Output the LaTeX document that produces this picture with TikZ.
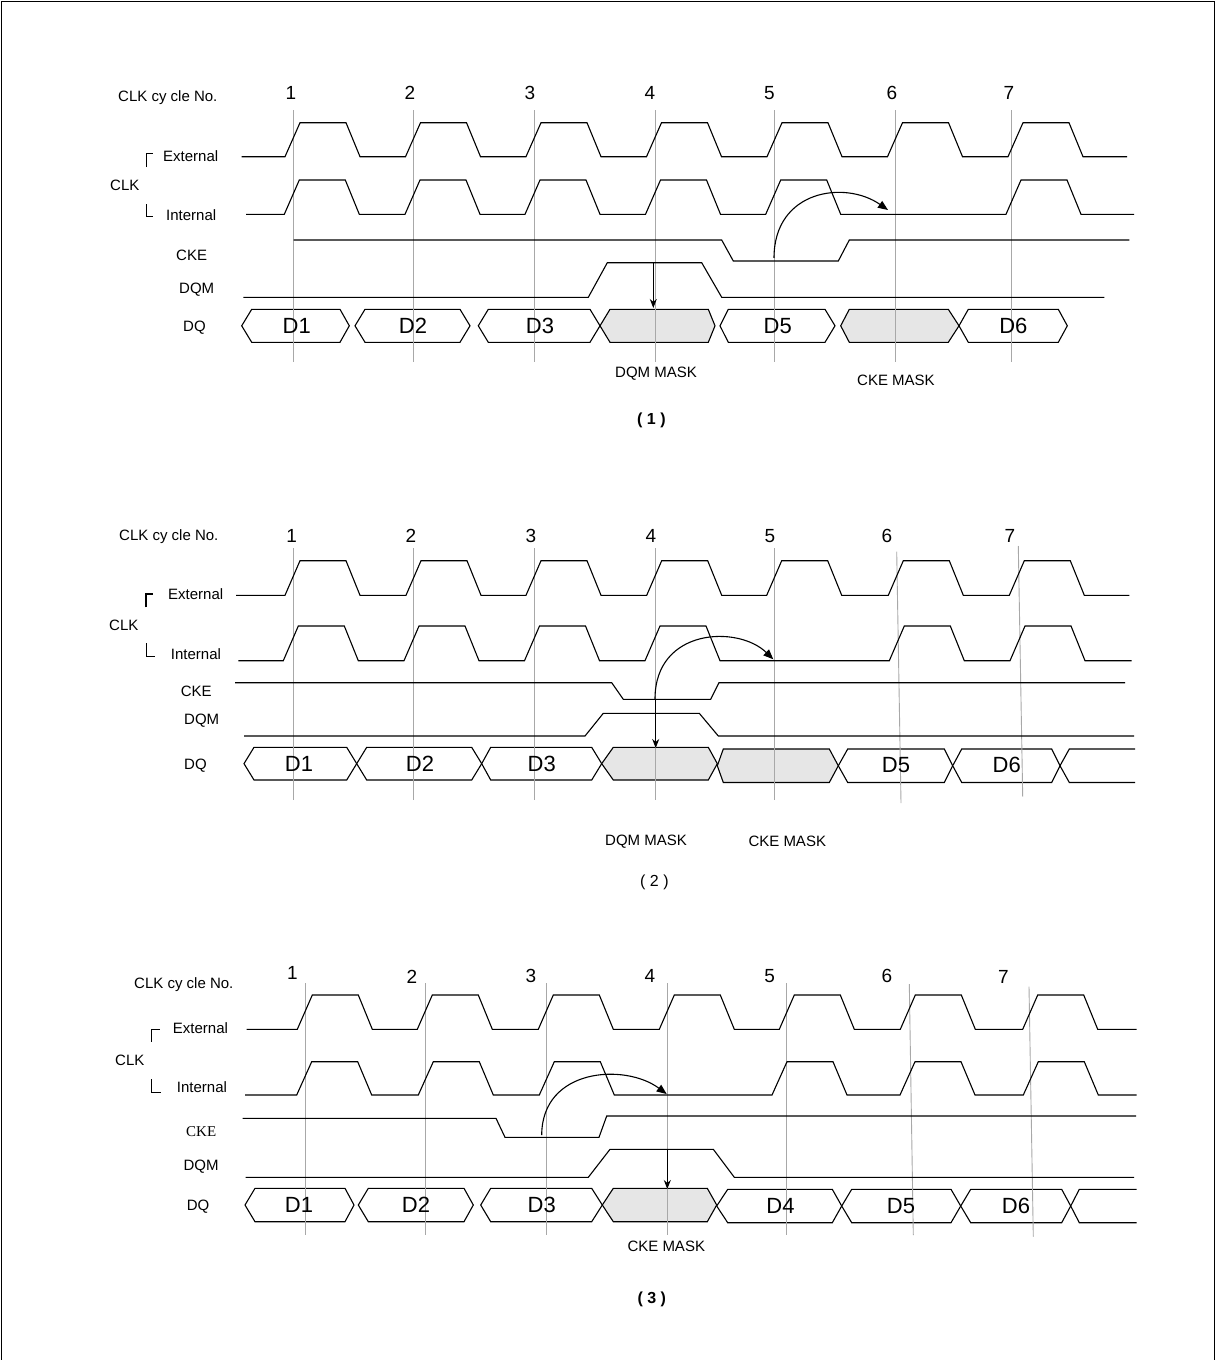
\documentclass[tikz,border=0pt]{standalone}
\usepackage{fontspec}
\setmainfont{Liberation Sans}
\newfontfamily\ckeserif{Liberation Serif}
\usetikzlibrary{arrows.meta}
\definecolor{gridgray}{HTML}{A8A8A8}
\definecolor{maskgray}{HTML}{E6E6E6}
\tikzset{
  sig/.style={line width=1.1pt, line join=miter},
  gridln/.style={line width=0.9pt, draw=gridgray},
  lbl/.style={inner sep=0pt, anchor=base west, font=\fontsize{15}{18}\selectfont},
  masklbl/.style={inner sep=0pt, anchor=base west, font=\fontsize{15}{18}\selectfont},
  num/.style={inner sep=0pt, font=\fontsize{19}{21}\selectfont},
  dlab/.style={inner sep=0pt, font=\fontsize{22}{24}\selectfont},
  hexw/.style={line width=1.1pt, fill=white},
  hexg/.style={line width=1.1pt, fill=maskgray},
  brk/.style={line width=1.1pt},
  carrow/.style={line width=1.1pt, -{Triangle[length=10pt,width=8pt]}},
  varrow/.style={line width=1.1pt, -{Stealth[length=9pt,width=7pt]}},
}
% clock waveform: xstart, xend, yhigh, ylow, list of rise positions
\newcommand{\clkwave}[5]{\draw[sig] (#1,#4) \foreach \rr in {#5} { -- (\rr,#4) -- ({\rr+15},#3) -- ({\rr+61},#3) -- ({\rr+75},#4) } -- (#2,#4);}
% data box: xl, xtl, xtr, xr, ytop, ybot, style
\newcommand{\hexb}[7]{\draw[#7] (#1,{(#5+#6)/2}) -- (#2,#5) -- (#3,#5) -- (#4,{(#5+#6)/2}) -- (#3,#6) -- (#2,#6) -- cycle;}
\begin{document}
\begin{tikzpicture}[x=1pt,y=-1pt]
\useasboundingbox (0,0) rectangle (1216,1360);
% outer frame
\draw[line width=1.2pt] (1.5,1360) -- (1.5,1.5) -- (1214.5,1.5) -- (1214.5,1360);

% ================= PANEL 1 =================
\hexb{241.7}{251.7}{340}{349.3}{309.3}{342.3}{hexw}
\hexb{355}{365}{460}{470}{309.3}{342.3}{hexw}
\hexb{478.3}{488.3}{590}{600}{309.3}{342.3}{hexw}
\hexb{600}{610}{708.3}{715}{309.3}{342.3}{hexg}
\hexb{720}{728.3}{825}{835}{309.3}{342.3}{hexw}
\hexb{840.7}{849.3}{948.3}{959}{309.3}{342.3}{hexg}
\hexb{959}{968.3}{1058.3}{1067.3}{309.3}{342.3}{hexw}
\foreach \x in {293.7,413.3,534,655.7,774.3,895.7,1011.7} \draw[gridln] (\x,110) -- (\x,362);
\clkwave{241.7}{1127}{122.7}{156.7}{285,405.5,526,646.5,767,887.5,1008}
\clkwave{246}{1134}{180}{214.3}{284.3,405,525,645.5,765.7,1006}
\draw[sig] (293.7,240) -- (721.7,240) -- (733.3,261) -- (838.3,261) -- (849.3,240) -- (1129.3,240);
\draw[sig] (243.3,297.3) -- (588.3,297.3) -- (607.3,262.7) -- (701.7,262.7) -- (721.7,297.3) -- (1104.3,297.3);
\draw[carrow] (774,258) .. controls (774,190) and (845,180) .. (888,210);
\draw[varrow] (653.3,262.7) -- (653.3,308);
\draw[brk] (146.7,167) -- (146.7,153.3) -- (153,153.3);
\draw[brk] (146.7,204) -- (146.7,216.7) -- (153.3,216.7);
\foreach \x [count=\i] in {291,410,530,650,769.5,892,1009} \node[num] (pa\i) at (\x,93.3) {\i};
\node[lbl] (pacyc) at (118,101.7) {CLK cy cle No.};
\node[lbl] (paext) at (163,161.7) {External};
\node[lbl] (paclk) at (110,190.7) {CLK};
\node[lbl] (paint) at (166,220.7) {Internal};
\node[lbl] (packe) at (176,260) {CKE};
\node[lbl] (padqm) at (179,293.3) {DQM};
\node[lbl] (padq) at (183,331.7) {DQ};
\node[dlab] (pad1) at (296.7,325.8) {D1};
\node[dlab] (pad2) at (413,325.8) {D2};
\node[dlab] (pad3) at (540,325.8) {D3};
\node[dlab] (pad5) at (777.7,325.8) {D5};
\node[dlab] (pad6) at (1013.3,325.8) {D6};
\node[masklbl] (padqmm) at (615,377) {DQM MASK};
\node[masklbl] (pakem) at (857,385) {CKE MASK};
\node[inner sep=0pt, anchor=base west, font=\fontsize{16}{18}\selectfont\bfseries] (patitle) at (637,424) {( 1 )};

% ================= PANEL 2 =================
\hexb{244}{254}{346.7}{356.7}{747.3}{780}{hexw}
\hexb{356.7}{366.7}{471.7}{481.7}{747.3}{780}{hexw}
\hexb{481.7}{490.7}{591.7}{601.7}{747.3}{780}{hexw}
\hexb{601.7}{613.3}{708.3}{717.3}{747.3}{780}{hexg}
\hexb{717.3}{723.3}{829.3}{838.3}{749}{782.5}{hexg}
\hexb{838.3}{847.7}{944.3}{952.7}{749}{782.5}{hexw}
\hexb{952.7}{961.7}{1051.7}{1060}{749}{782.5}{hexw}
\draw[sig] (1135,749) -- (1069.3,749) -- (1060,765.75) -- (1069.3,782.5) -- (1135,782.5);
\foreach \x in {293.7,413.3,534,655.7,774.3} \draw[gridln] (\x,548) -- (\x,800);
\draw[gridln] (896.7,551.7) -- (901,803);
\draw[gridln] (1018.3,546) -- (1022.7,796.7);
\clkwave{236}{1129.3}{560.7}{595.3}{285,406,526,646.7,766.7,888.3,1009.3}
\clkwave{238.3}{1131.7}{626}{660.7}{283.3,404,524.5,645,889.3,1010}
\draw[sig] (235,682.7) -- (611.7,682.7) -- (623.3,699.3) -- (710.7,699.3) -- (719,682.7) -- (1125,682.7);
\draw[sig] (244,736) -- (585,736) -- (603.3,713.3) -- (699.3,713.3) -- (718.3,736) -- (1134,736);
\draw[carrow] (655,699) .. controls (655,628) and (738,625) .. (773.3,659.3);
\draw[varrow] (655.7,699.3) -- (655.7,748);
\draw[brk] (146,607.3) -- (146,594) -- (153.3,594);
\draw[brk] (146.7,643.3) -- (146.7,656.7) -- (155,656.7);
\foreach \x [count=\i] in {291.7,411,531,651,770,887,1010} \node[num] (pb\i) at (\x,535.8) {\i};
\node[lbl] (pbcyc) at (119,540) {CLK cy cle No.};
\node[lbl] (pbext) at (168,599.3) {External};
\node[lbl] (pbclk) at (109,630) {CLK};
\node[lbl] (pbint) at (170.7,659.3) {Internal};
\node[lbl] (pbcke) at (180.7,696) {CKE};
\node[lbl] (pbdqm) at (184,724.3) {DQM};
\node[lbl] (pbdq) at (184,769.3) {DQ};
\node[dlab] (pbd1) at (299,764) {D1};
\node[dlab] (pbd2) at (420,764) {D2};
\node[dlab] (pbd3) at (541.7,764) {D3};
\node[dlab] (pbd5) at (896,765) {D5};
\node[dlab] (pbd6) at (1006.7,765) {D6};
\node[masklbl] (pbdqmm) at (605,845) {DQM MASK};
\node[masklbl] (pbckem) at (748.3,846) {CKE MASK};
\node[inner sep=0pt, anchor=base west, font=\fontsize{16}{18}\selectfont] (pbtitle) at (640,886.7) {( 2 )};

% ================= PANEL 3 =================
\hexb{245}{255}{345}{354}{1188.3}{1221.7}{hexw}
\hexb{358.3}{368.3}{464}{473.3}{1188.3}{1221.7}{hexw}
\hexb{480.7}{490.7}{591.7}{602.3}{1188.3}{1221.7}{hexw}
\hexb{602.3}{613.3}{707.3}{716.7}{1188.3}{1221.7}{hexg}
\hexb{716.7}{727.7}{832.3}{841.7}{1189.3}{1222.7}{hexw}
\hexb{841.7}{851.7}{951}{960.7}{1189.3}{1222.7}{hexw}
\hexb{960.7}{970.7}{1061.7}{1070.7}{1189.3}{1222.7}{hexw}
\draw[sig] (1136.7,1189.3) -- (1079.3,1189.3) -- (1070.7,1206) -- (1079.3,1222.7) -- (1136.7,1222.7);
\foreach \x in {305.7,425.7,546,667.3,786.7} \draw[gridln] (\x,983) -- (\x,1235);
\draw[gridln] (909.3,984) -- (913.3,1235);
\draw[gridln] (1029,986.7) -- (1033.3,1236.7);
\clkwave{246.7}{1136.7}{995}{1029.3}{297.3,417.3,538.3,659.3,779.3,900.3,1022.7}
\clkwave{245}{1136.7}{1061.7}{1095}{296.7,418.3,539.3,772,900,1023.3}
\draw[sig] (242.7,1118.3) -- (496,1118.3) -- (505,1137.3) -- (599,1137.3) -- (606.7,1116) -- (1136,1116);
\draw[sig] (245.7,1177.3) -- (588.3,1177.3) -- (610,1149.3) -- (713.3,1149.3) -- (734.3,1177.3) -- (1134,1177.3);
\draw[carrow] (541.7,1135) .. controls (542,1068) and (625,1063) .. (666.7,1094);
\draw[varrow] (667.3,1149.3) -- (667.3,1189);
\draw[brk] (151.7,1041.7) -- (151.7,1029.3) -- (160,1029.3);
\draw[brk] (151.7,1079.3) -- (151.7,1092.7) -- (160.7,1092.7);
\foreach \x/\y [count=\i] in {292.3/972.7,412/976.7,531/975.8,650/975.8,769.7/975.8,887/975.8,1003.3/977} \node[num] (pc\i) at (\x,\y) {\i};
\node[lbl] (pccyc) at (134,988.3) {CLK cy cle No.};
\node[lbl] (pcext) at (172.7,1033.3) {External};
\node[lbl] (pcclk) at (115,1065) {CLK};
\node[lbl] (pcint) at (176.7,1092.3) {Internal};
\node[lbl, font=\ckeserif\fontsize{15}{18}\selectfont] (pccke) at (186,1136.7) {CKE};
\node[lbl] (pcdqm) at (183.3,1170) {DQM};
\node[lbl] (pcdq) at (186.7,1210) {DQ};
\node[dlab] (pcd1) at (299,1205) {D1};
\node[dlab] (pcd2) at (416,1205) {D2};
\node[dlab] (pcd3) at (541.7,1205) {D3};
\node[dlab] (pcd4) at (780.5,1206) {D4};
\node[dlab] (pcd5) at (901,1206) {D5};
\node[dlab] (pcd6) at (1016,1206) {D6};
\node[masklbl] (pcckem) at (627.3,1251.7) {CKE MASK};
\node[inner sep=0pt, anchor=base west, font=\fontsize{16}{18}\selectfont\bfseries] (pctitle) at (637.3,1303.3) {( 3 )};
\end{tikzpicture}
\end{document}
